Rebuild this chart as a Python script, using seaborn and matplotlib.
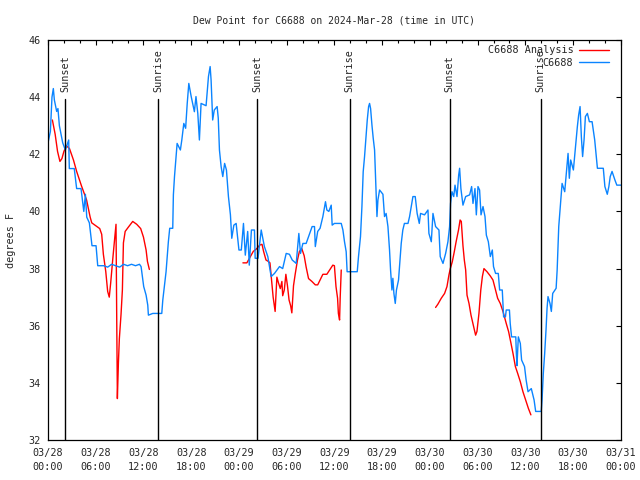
import matplotlib
matplotlib.use("Agg")
import matplotlib.pyplot as plt
from matplotlib.ticker import MultipleLocator
import pandas as pd
import seaborn as sns

# Observations C6688 (hours since 03/28 00:00 UTC, dew point degF)
obs_hours = [0.0, 0.3, 0.5, 0.67, 0.8, 1.09, 1.25, 1.43, 1.85, 2.18, 2.6, 2.68, 3.3, 3.6, 4.15,
             4.5, 4.7, 4.87, 5.2, 5.53, 6.04, 6.25, 7.0, 7.5, 8.0, 8.5, 9.0, 9.5, 10.0, 10.5,
             11.0, 11.5, 11.7, 11.9, 12.03, 12.33, 12.54, 12.62, 13.17, 14.3, 14.43, 14.63,
             14.84, 15.13, 15.3, 15.68, 15.76, 15.9, 16.1, 16.23, 16.64, 16.82, 17.07, 17.3,
             17.5, 17.7, 18.0, 18.4, 18.6, 18.83, 19.03, 19.24, 19.87, 20.17, 20.38, 20.5,
             20.7, 20.9, 21.26, 21.4, 21.55, 21.76, 21.97, 22.2, 22.43, 22.68, 22.93, 23.1,
             23.36, 23.65, 24.0, 24.3, 24.57, 24.8, 25.1, 25.3, 25.57, 25.95, 26.04, 26.4,
             26.8, 27.2, 27.63, 28.05, 28.47, 29.1, 29.5, 29.94, 30.35, 30.7, 31.2, 31.53,
             31.74, 32.04, 32.45, 32.9, 33.2, 33.5, 33.6, 33.9, 34.2, 34.55, 34.88, 35.05,
             35.3, 35.6, 35.72, 36.0, 36.86, 37.07, 37.27, 37.48, 37.6, 38.87, 39.03, 39.28,
             39.46, 39.62, 39.79, 39.96, 40.13, 40.3, 40.42, 40.55, 40.72, 40.88, 41.05,
             41.22, 41.35, 41.47, 41.68, 42.1, 42.3, 42.5, 42.73, 42.93, 43.06, 43.23, 43.35,
             43.48, 43.65, 43.8, 44.06, 44.24, 44.4, 44.6, 44.8, 45.25, 45.45, 45.66, 45.87,
             46.16, 46.4, 46.67, 46.83, 47.33, 47.76, 47.88, 48.18, 48.39, 48.72, 49.14,
             49.3, 49.65, 49.98, 50.27, 50.48, 50.6, 50.78, 51.0, 51.16, 51.41, 51.62, 51.74,
             51.9, 52.16, 52.5, 53.0, 53.25, 53.42, 53.67, 53.84, 54.05, 54.25, 54.43, 54.68,
             54.93, 55.1, 55.35, 55.6, 55.85, 56.0, 56.26, 56.6, 56.77, 57.1, 57.27, 57.5,
             57.6, 58.0, 58.1, 58.27, 58.8, 58.87, 58.95, 59.12, 59.37, 59.53, 59.9, 60.1,
             60.34, 60.75, 61.1, 61.3, 62.0, 62.1, 62.26, 62.43, 62.6, 62.73, 62.85, 63.1,
             63.27, 63.44, 63.87, 64.0, 64.2, 64.45, 64.62, 64.95, 65.1, 65.37, 65.53, 65.7,
             66.04, 66.38, 66.54, 66.7, 66.88, 67.04, 67.2, 67.38, 67.55, 67.8, 68.05, 68.39,
             68.72, 69.06, 69.8, 70.0, 70.3, 70.5, 70.67, 70.9, 71.26, 71.5, 72.0]
obs_dewpt = [42.4, 42.8, 44.0, 44.3, 43.9, 43.5, 43.6, 43.0, 42.4, 42.15, 42.5, 41.5, 41.5, 40.8, 40.8,
             40.0, 40.6, 39.8, 39.6, 38.8, 38.8, 38.1, 38.1, 38.05, 38.15, 38.1, 38.05, 38.15, 38.1, 38.15,
             38.1, 38.15, 38.07, 37.66, 37.37, 37.07, 36.72, 36.37, 36.43, 36.43, 36.9, 37.37,
             37.89, 38.94, 39.41, 39.41, 40.58, 41.22, 41.92, 42.38, 42.15, 42.5, 43.08, 42.91,
             43.78, 44.48, 44.02, 43.49, 44.02, 43.43, 42.5, 43.78, 43.7, 44.72, 45.07, 44.6,
             43.2, 43.55, 43.67, 43.27, 42.15, 41.57, 41.22, 41.68, 41.45, 40.52, 39.88, 39.06,
             39.52, 39.58, 38.65, 38.65, 39.58, 38.47, 39.3, 38.12, 39.35, 39.35, 38.36, 38.36,
             39.35, 38.77, 38.42, 37.72, 37.83, 38.07, 38.0, 38.53, 38.5, 38.3, 38.18, 39.23,
             38.53, 38.88, 38.88, 39.23, 39.47, 39.47, 38.77, 39.3, 39.41, 39.82, 40.34, 40.05,
             40.0, 40.22, 39.52, 39.58, 39.58, 39.35, 38.94, 38.59, 37.89, 37.89, 38.42, 39.12,
             40.17, 41.39, 41.92, 42.56, 43.2, 43.67, 43.78, 43.6, 43.02, 42.56, 42.15,
             40.87, 39.82, 40.4, 40.75, 40.6, 39.82, 39.93, 39.47, 38.65, 37.95, 37.25, 37.66,
             37.13, 36.78, 37.25, 37.6, 38.3, 38.88, 39.35, 39.58, 39.58, 39.82, 40.17, 40.52,
             40.52, 39.93, 39.58, 39.93, 39.88, 40.05, 39.23, 38.94, 39.93, 39.47, 39.35,
             38.42, 38.18, 38.53, 38.94, 39.47, 40.28, 40.69, 40.52, 40.92, 40.52, 41.27, 41.51,
             40.8, 40.22, 40.52, 40.58, 40.87, 40.28, 40.8, 39.88, 40.87, 40.75, 39.88, 40.17,
             39.82, 39.17, 38.94, 38.42, 38.65, 38.07, 37.83, 37.83, 37.25, 37.25, 36.31, 36.31,
             36.55, 36.55, 36.08, 35.61, 35.61, 35.03, 34.6, 35.61, 35.38, 34.8, 34.57, 34.1,
             33.69, 33.8, 33.4, 33.0, 33.0, 33.4, 34.33, 35.03, 35.85, 36.61, 37.02, 36.78,
             36.5, 37.13, 37.31, 37.95, 39.47, 40.34, 40.98, 40.69, 41.16, 42.03, 41.16, 41.8,
             41.45, 42.5, 42.97, 43.37, 43.67, 42.62, 41.92, 42.5, 43.32, 43.43, 43.14, 43.14,
             42.5, 41.51, 41.51, 40.87, 40.6, 40.87, 41.22, 41.4, 41.1, 40.92, 40.92]

# Analysis C6688, three separate runs
ana1_hours = [0.55, 0.9, 1.2, 1.5, 1.75, 2.0, 2.3, 2.7, 3.2, 3.6, 4.2, 4.85, 5.3, 5.5, 6.5,
              6.75, 6.96, 7.26, 7.5, 7.7, 7.88, 8.13, 8.38, 8.55, 8.63, 8.72, 8.85, 8.97,
              9.18, 9.35, 9.48, 9.7, 10.1, 10.65, 11.15, 11.65, 12.0, 12.33, 12.5, 12.74]
ana1_dewpt = [43.2, 42.7, 42.1, 41.75, 41.85, 42.1, 42.3, 42.2, 41.8, 41.4, 40.9, 40.4, 39.8, 39.6, 39.4,
              39.2, 38.5, 37.9, 37.2, 37.0, 37.5, 38.3, 39.05, 39.55, 36.55, 33.45, 34.7, 35.55,
              36.4, 37.25, 38.9, 39.3, 39.45, 39.65, 39.55, 39.4, 39.1, 38.65, 38.25, 37.97]
ana2_hours = [24.5, 25.0, 25.4, 25.8, 26.25, 26.6, 26.9, 27.1, 27.4, 27.7, 27.9, 28.1, 28.3,
              28.55, 28.77, 28.97, 29.2, 29.4, 29.5, 29.7, 29.9, 30.1, 30.3, 30.5, 30.65,
              30.86, 31.07, 31.36, 31.6, 31.9, 32.2, 32.45, 32.75, 33.17, 33.6, 33.9, 34.2,
              34.55, 35.05, 35.4, 35.8, 36.0, 36.2, 36.4, 36.5, 36.65, 36.73, 36.86]
ana2_dewpt = [38.2, 38.2, 38.4, 38.6, 38.7, 38.82, 38.85, 38.6, 38.3, 38.25, 38.2, 37.6, 37.0,
              36.5, 37.7, 37.5, 37.3, 37.55, 37.05, 37.25, 37.8, 37.4, 36.9, 36.7, 36.45,
              37.4, 37.8, 38.3, 38.6, 38.7, 38.45, 38.05, 37.65, 37.55, 37.43, 37.43, 37.6,
              37.8, 37.8, 37.95, 38.12, 38.1, 37.37, 36.96, 36.43, 36.2, 37.0, 37.95]
ana3_hours = [48.72, 49.0, 49.43, 49.85, 50.15, 50.4, 50.57, 50.82, 51.07, 51.3, 51.6, 51.8,
              51.95, 52.16, 52.33, 52.5, 52.67, 52.92, 53.17, 53.5, 53.75, 53.92, 54.17, 54.4,
              54.6, 54.8, 55.18, 55.6, 55.93, 56.2, 56.52, 56.85, 57.2, 57.6, 57.9, 58.2,
              58.45, 58.75, 59.04, 59.37, 59.7, 60.04, 60.38, 60.7]
ana3_dewpt = [36.64, 36.75, 36.96, 37.13, 37.37, 37.78, 38.0, 38.24, 38.59, 38.94, 39.35, 39.7,
              39.65, 38.8, 38.3, 37.95, 37.07, 36.78, 36.37, 35.97, 35.67, 35.8, 36.43, 37.25,
              37.72, 38.0, 37.89, 37.74, 37.6, 37.31, 36.96, 36.78, 36.49, 36.08, 35.79, 35.38,
              35.03, 34.57, 34.33, 34.04, 33.69, 33.4, 33.11, 32.88]

sunset_hours = [2.18, 26.33, 50.48]
sunrise_hours = [13.87, 37.9, 61.92]

tick_hours = [0, 6, 12, 18, 24, 30, 36, 42, 48, 54, 60, 66, 72]
tick_labels = ["03/28\n00:00", "03/28\n06:00", "03/28\n12:00", "03/28\n18:00",
               "03/29\n00:00", "03/29\n06:00", "03/29\n12:00", "03/29\n18:00",
               "03/30\n00:00", "03/30\n06:00", "03/30\n12:00", "03/30\n18:00",
               "03/31\n00:00"]

obs_df = pd.DataFrame({"hour": obs_hours, "dewpt": obs_dewpt})
ana_df = pd.concat([
    pd.DataFrame({"hour": ana1_hours, "dewpt": ana1_dewpt, "run": 1}),
    pd.DataFrame({"hour": ana2_hours, "dewpt": ana2_dewpt, "run": 2}),
    pd.DataFrame({"hour": ana3_hours, "dewpt": ana3_dewpt, "run": 3}),
])

sns.set_style("white")
plt.rcParams["font.family"] = ["DejaVu Sans Mono"]
fs = 7.3

fig, ax = plt.subplots(figsize=(6.4, 4.8), dpi=100)
fig.subplots_adjust(left=0.075, right=0.970, top=0.9167, bottom=0.0833)

sns.lineplot(data=ana_df, x="hour", y="dewpt", units="run", estimator=None,
             color="#ff0000", linewidth=1.0, label="C6688 Analysis", ax=ax)
sns.lineplot(data=obs_df, x="hour", y="dewpt", color="#0a84ff", linewidth=1.0,
             label="C6688", ax=ax)

# sunrise / sunset markers
trans = ax.get_xaxis_transform()
for h in sunset_hours:
    ax.axvline(h, ymin=0, ymax=0.853, color="black", linewidth=1.0)
    ax.text(h, 0.87, "Sunset", rotation=90, ha="center", va="bottom",
            transform=trans, fontsize=fs)
for h in sunrise_hours:
    ax.axvline(h, ymin=0, ymax=0.853, color="black", linewidth=1.0)
    ax.text(h, 0.87, "Sunrise", rotation=90, ha="center", va="bottom",
            transform=trans, fontsize=fs)

ax.set_xlim(0, 72)
ax.set_ylim(32, 46)
ax.set_xticks(tick_hours)
ax.set_xticklabels(tick_labels, linespacing=1.45)
ax.xaxis.set_minor_locator(MultipleLocator(2))
ax.yaxis.set_major_locator(MultipleLocator(2))
ax.tick_params(which="both", direction="in", top=True, right=True, color="black",
               width=0.8, labelsize=fs)
ax.tick_params(axis="x", which="major", length=3.5, pad=6)
ax.tick_params(axis="y", which="major", length=3.5, pad=5)
ax.tick_params(which="minor", length=1.8)
for s in ax.spines.values():
    s.set_color("black")
    s.set_linewidth(0.9)

ax.set_xlabel("")
ax.set_ylabel("degrees F", labelpad=9, fontsize=fs)
ax.set_title("Dew Point for C6688 on 2024-Mar-28 (time in UTC)", pad=12, fontsize=7.0)

# legend without duplicates from the per-run lines
handles, labels = ax.get_legend_handles_labels()
uniq = dict(zip(labels, handles))
ax.legend(uniq.values(), uniq.keys(), loc="upper right", bbox_to_anchor=(0.988, 1.0),
          frameon=False, markerfirst=False, fontsize=fs,
          handlelength=2.9, handletextpad=0.6, labelspacing=0.25, borderaxespad=0.3,
          borderpad=0.2)

fig.savefig("out.png", dpi=100)
